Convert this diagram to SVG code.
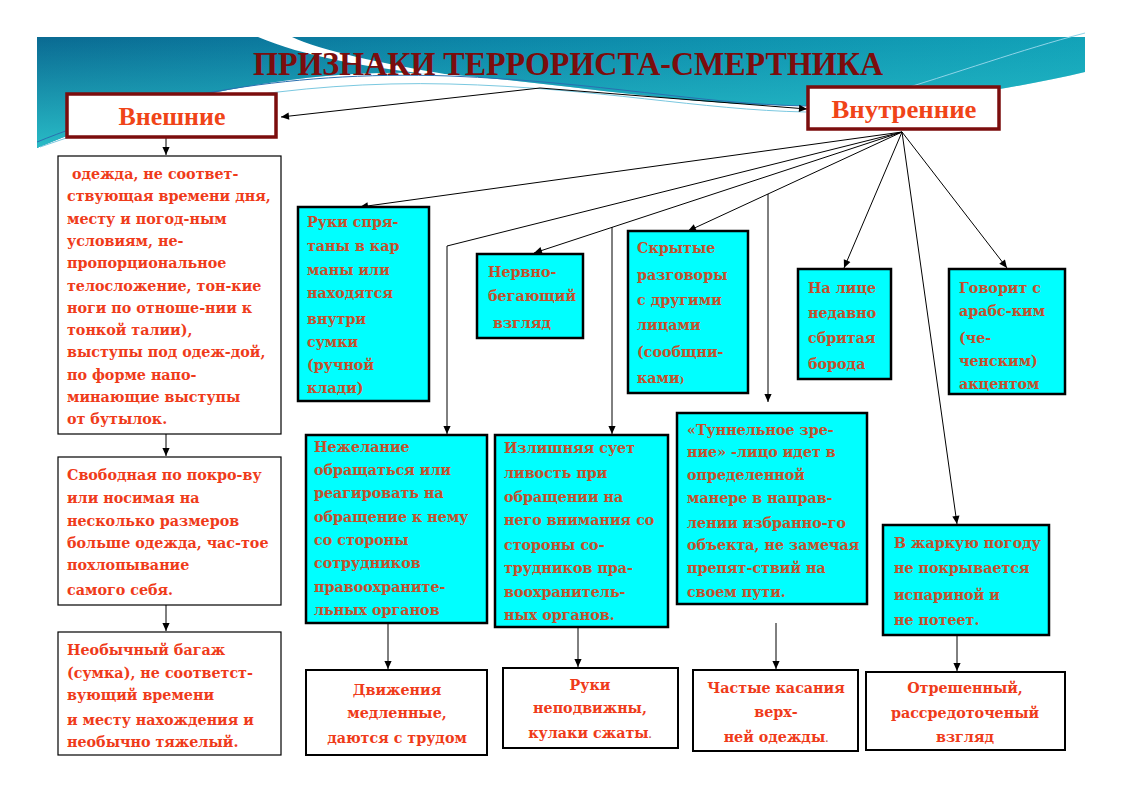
<svg xmlns="http://www.w3.org/2000/svg" width="1123" height="794" viewBox="0 0 1123 794">
<style>
.wb{fill:#fff;stroke:#000;stroke-width:1.2}
.wb2{fill:#fff;stroke:#000;stroke-width:2}
.cy{fill:#00ffff;stroke:#000;stroke-width:2.5}
.hb{fill:#fff;stroke:#7b0d0d;stroke-width:3.5}
.t{font-family:"DejaVu Serif","Liberation Serif",serif;font-weight:bold;font-size:14.3px;fill:#ef3b1a}
.tc{fill:#c4502c}
.mid{text-anchor:middle}
.hd{font-family:"Liberation Serif","Times New Roman",serif;font-weight:bold;font-size:25px;fill:#f04418;text-anchor:middle}
.title{font-family:"Liberation Serif","Times New Roman",serif;font-weight:bold;font-size:34px;fill:#7b0d0d;text-anchor:middle}
.con{stroke:#000;stroke-width:1;fill:none;marker-end:url(#ah)}
</style>
<defs>
<marker id="ah" viewBox="0 0 10 10" refX="10" refY="5" markerWidth="9" markerHeight="8" markerUnits="userSpaceOnUse" orient="auto">
<path d="M0,0.5 L10,5 L0,9.5 Z" fill="#000"/>
</marker>
<linearGradient id="tg" x1="0" y1="0" x2="1" y2="0">
<stop offset="0" stop-color="#0a6a92"/>
<stop offset="0.45" stop-color="#0c86a8"/>
<stop offset="1" stop-color="#12a2b8"/>
</linearGradient>
<linearGradient id="tv" x1="0" y1="0" x2="0" y2="1">
<stop offset="0" stop-color="#2cc4cc" stop-opacity="0"/>
<stop offset="1" stop-color="#2cc4cc" stop-opacity="0.9"/>
</linearGradient>
</defs>
<rect width="1123" height="794" fill="#fff"/>
<g id="banner">
<path d="M37,37 L1085,37 L1085,72 C1010,90 900,106 815,106 C680,106 560,82 440,74 C300,66 150,100 37,148 Z" fill="url(#tg)"/>
<path d="M37,37 L1085,37 L1085,72 C1010,90 900,106 815,106 C680,106 560,82 440,74 C300,66 150,100 37,148 Z" fill="url(#tv)"/>
<path d="M258,37 C300,55 370,70 470,78 C380,64 320,50 292,37 Z" fill="#fff"/>
<path d="M37,142 C140,100 280,70 450,76 C600,82 700,104 806,106" fill="none" stroke="#2a6fb0" stroke-width="1"/>
<path d="M40,147 C150,108 290,80 450,84 C600,88 700,110 806,112" fill="none" stroke="#7ac8e0" stroke-width="1"/>
<path d="M1085,33 C1020,50 960,72 880,96" fill="none" stroke="#8fd4e8" stroke-width="1"/>
</g>
<text class="title" x="568" y="75" textLength="630" lengthAdjust="spacingAndGlyphs">ПРИЗНАКИ ТЕРРОРИСТА-СМЕРТНИКА</text>
<g id="connectors">
<path class="con" d="M540,88 L281,117"/>
<path class="con" d="M540,88 L807,109"/>
<path class="con" d="M166,138 L166,155"/>
<path class="con" d="M166,434 L166,456"/>
<path class="con" d="M166,605 L166,631"/>
<path class="con" d="M902,132 L360,207"/>
<path class="con" d="M902,132 L447,246 L447,434"/>
<path class="con" d="M902,132 L534,253"/>
<path class="con" d="M612,227 L612,434"/>
<path class="con" d="M902,132 L688,231"/>
<path class="con" d="M768,194 L768,402"/>
<path class="con" d="M902,132 L844,268"/>
<path class="con" d="M902,132 L957,524"/>
<path class="con" d="M902,132 L1007,268"/>
<path class="con" d="M388,623 L388,669"/>
<path class="con" d="M578,627 L578,667"/>
<path class="con" d="M776,623 L776,669"/>
<path class="con" d="M957,630 L957,671"/>
</g>
<g id="n-external">
<rect class="hb" x="67" y="94" width="209" height="43"/>
<text class="hd" x="172" y="125" textLength="107" lengthAdjust="spacingAndGlyphs">Внешние</text>
</g>
<g id="n-internal">
<rect class="hb" x="808" y="87" width="191" height="42"/>
<text class="hd" x="904" y="118" textLength="145" lengthAdjust="spacingAndGlyphs">Внутренние</text>
</g>
<g id="n-clothes">
<rect class="wb" x="58" y="156" width="223" height="278"/>
<text class="t"><tspan x="72" y="179">одежда, не соответ-</tspan><tspan x="67" y="201">ствующая времени дня,</tspan><tspan x="67" y="224">месту и погод-ным</tspan><tspan x="67" y="246">условиям, не-</tspan><tspan x="67" y="268">пропорциональное</tspan><tspan x="67" y="291">телосложение, тон-кие</tspan><tspan x="67" y="313">ноги по отноше-нии к</tspan><tspan x="67" y="335">тонкой талии),</tspan><tspan x="67" y="357">выступы под одеж-дой,</tspan><tspan x="67" y="380">по форме напо-</tspan><tspan x="67" y="402">минающие выступы</tspan><tspan x="67" y="424">от бутылок.</tspan></text>
</g>
<g id="n-loose">
<rect class="wb" x="58" y="457" width="223" height="148"/>
<text class="t"><tspan x="67" y="480">Свободная по покро-ву</tspan><tspan x="67" y="503">или носимая на</tspan><tspan x="67" y="526">несколько размеров</tspan><tspan x="67" y="548">больше одежда, час-тое</tspan><tspan x="67" y="570">похлопывание</tspan><tspan x="67" y="595">самого себя.</tspan></text>
</g>
<g id="n-baggage">
<rect class="wb" x="58" y="632" width="223" height="123"/>
<text class="t"><tspan x="67" y="655">Необычный багаж</tspan><tspan x="67" y="678">(сумка), не соответст-</tspan><tspan x="67" y="700">вующий времени</tspan><tspan x="67" y="725">и месту нахождения и</tspan><tspan x="67" y="747">необычно тяжелый.</tspan></text>
</g>
<g id="n-hands">
<rect class="cy" x="298" y="207" width="131" height="194"/>
<text class="t tc"><tspan x="307" y="227">Руки спря-</tspan><tspan x="307" y="251">таны в кар</tspan><tspan x="307" y="275">маны или</tspan><tspan x="307" y="298">находятся</tspan><tspan x="307" y="324">внутри</tspan><tspan x="307" y="347">сумки</tspan><tspan x="307" y="370">(ручной</tspan><tspan x="307" y="393">клади)</tspan></text>
</g>
<g id="n-nervous">
<rect class="cy" x="477" y="254" width="106" height="84"/>
<text class="t tc"><tspan x="488" y="277">Нервно-</tspan><tspan x="488" y="301">бегающий</tspan><tspan x="493" y="328">взгляд</tspan></text>
</g>
<g id="n-talks">
<rect class="cy" x="628" y="231" width="120" height="162"/>
<text class="t tc"><tspan x="637" y="253">Скрытые</tspan><tspan x="637" y="280">разговоры</tspan><tspan x="637" y="305">с другими</tspan><tspan x="637" y="330">лицами</tspan><tspan x="637" y="357">(сообщни-</tspan><tspan x="637" y="383">ками<tspan font-size="10">)</tspan></tspan></text>
</g>
<g id="n-beard">
<rect class="cy" x="798" y="269" width="93" height="110"/>
<text class="t tc"><tspan x="808" y="293">На лице</tspan><tspan x="808" y="318">недавно</tspan><tspan x="808" y="343">сбритая</tspan><tspan x="808" y="369">борода</tspan></text>
</g>
<g id="n-accent">
<rect class="cy" x="949" y="269" width="116" height="125"/>
<text class="t tc"><tspan x="959" y="293">Говорит с</tspan><tspan x="959" y="316">арабс-ким</tspan><tspan x="959" y="343">(че-</tspan><tspan x="959" y="366">ченским)</tspan><tspan x="959" y="389">акцентом</tspan></text>
</g>
<g id="n-reluctance">
<rect class="cy" x="306" y="435" width="181" height="188"/>
<text class="t tc"><tspan x="314" y="452">Нежелание</tspan><tspan x="314" y="475">обращаться или</tspan><tspan x="314" y="498">реагировать на</tspan><tspan x="314" y="522">обращение к нему</tspan><tspan x="314" y="545">со стороны</tspan><tspan x="314" y="568">сотрудников</tspan><tspan x="314" y="592">правоохраните-</tspan><tspan x="314" y="615">льных органов</tspan></text>
</g>
<g id="n-fussiness">
<rect class="cy" x="495" y="435" width="173" height="192"/>
<text class="t tc"><tspan x="504" y="453">Излишняя сует</tspan><tspan x="504" y="478">ливость при</tspan><tspan x="504" y="502">обращении на</tspan><tspan x="504" y="525">него внимания со</tspan><tspan x="504" y="550">стороны со-</tspan><tspan x="504" y="573">трудников пра-</tspan><tspan x="504" y="597">воохранитель-</tspan><tspan x="504" y="620">ных органов.</tspan></text>
</g>
<g id="n-tunnel">
<rect class="cy" x="677" y="413" width="190" height="191"/>
<text class="t tc"><tspan x="687" y="435">«Туннельное зре-</tspan><tspan x="687" y="457">ние» -лицо идет в</tspan><tspan x="687" y="480">определенной</tspan><tspan x="687" y="503">манере в направ-</tspan><tspan x="687" y="528">лении избранно-го</tspan><tspan x="687" y="550">объекта, не замечая</tspan><tspan x="687" y="573">препят-ствий на</tspan><tspan x="687" y="597">своем пути.</tspan></text>
</g>
<g id="n-heat">
<rect class="cy" x="883" y="525" width="166" height="110"/>
<text class="t tc"><tspan x="894" y="548">В жаркую погоду</tspan><tspan x="894" y="573">не покрывается</tspan><tspan x="894" y="600">испариной и</tspan><tspan x="894" y="625">не потеет.</tspan></text>
</g>
<g id="n-slow">
<rect class="wb2" x="306" y="670" width="181" height="85"/>
<text class="t mid"><tspan x="397" y="695">Движения</tspan><tspan x="397" y="718">медленные,</tspan><tspan x="397" y="743">даются с трудом</tspan></text>
</g>
<g id="n-fists">
<rect class="wb2" x="503" y="668" width="175" height="80"/>
<text class="t mid"><tspan x="590" y="690">Руки</tspan><tspan x="590" y="713">неподвижны,</tspan><tspan x="590" y="738">кулаки сжаты<tspan font-size="9" fill="#c06040">.</tspan></tspan></text>
</g>
<g id="n-touch">
<rect class="wb2" x="693" y="670" width="165" height="81"/>
<text class="t mid"><tspan x="776" y="693">Частые касания</tspan><tspan x="776" y="717">верх-</tspan><tspan x="776" y="742">ней одежды<tspan font-size="9" fill="#c06040">.</tspan></tspan></text>
</g>
<g id="n-detached">
<rect class="wb2" x="866" y="672" width="199" height="78"/>
<text class="t mid"><tspan x="965" y="693">Отрешенный,</tspan><tspan x="965" y="718">рассредоточеный</tspan><tspan x="965" y="742">взгляд</tspan></text>
</g>
</svg>
